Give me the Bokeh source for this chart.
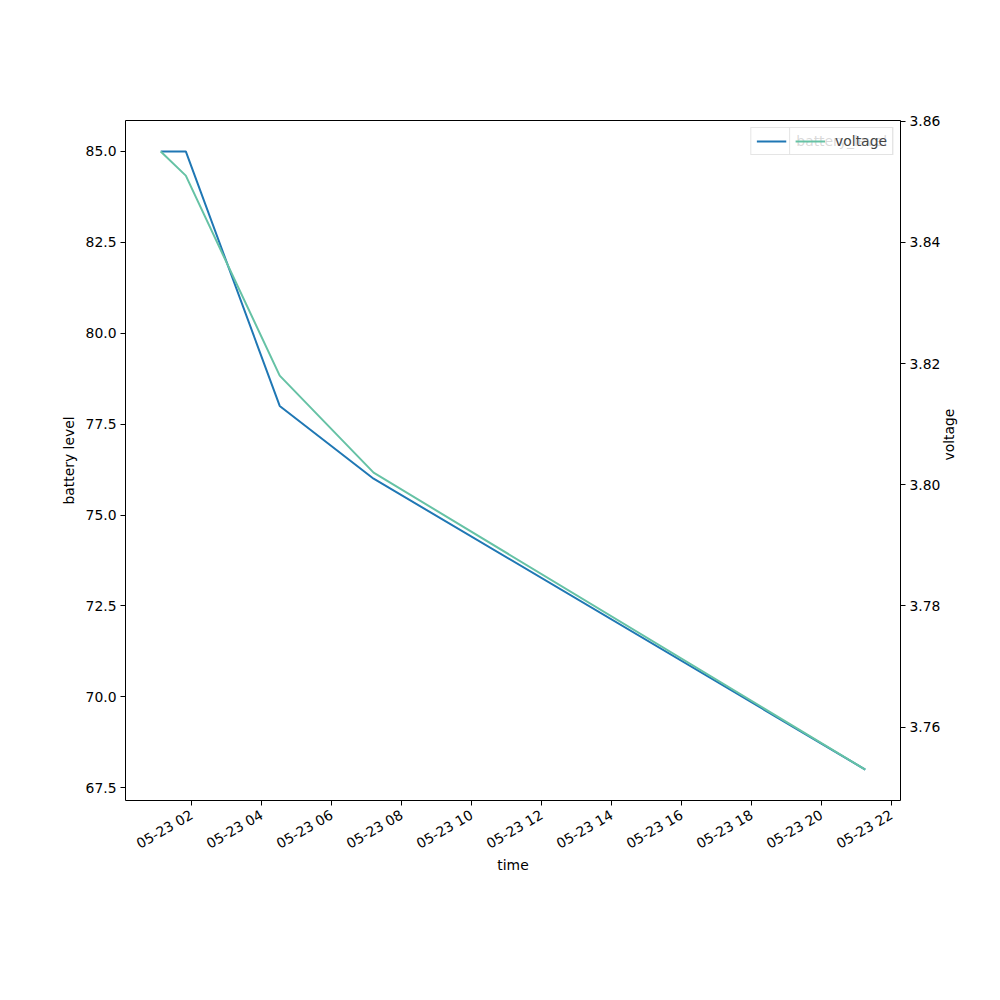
import math
from datetime import datetime
from bokeh.plotting import figure
from bokeh.models import (Range1d, LinearAxis, DatetimeTickFormatter, FixedTicker,
                          SingleIntervalTicker, NumeralTickFormatter, Legend, LegendItem)
from bokeh.embed import file_html
from bokeh.resources import INLINE

times = ["2023-05-23 01:07", "2023-05-23 01:50", "2023-05-23 04:31",
         "2023-05-23 07:12", "2023-05-23 21:15"]
battery_level = [85.0, 85.0, 78.0, 76.0, 68.0]
voltage = [3.855, 3.851, 3.818, 3.802, 3.753]
tick_hours = [2, 4, 6, 8, 10, 12, 14, 16, 18, 20, 22]

t = [datetime.strptime(s, "%Y-%m-%d %H:%M") for s in times]
tick_ms = [datetime(2023, 5, 23, h).timestamp() * 1000 for h in tick_hours]

def pad(lo, hi, f=0.05):
    d = (hi - lo) * f
    return lo - d, hi + d

x0, x1 = pad(t[0].timestamp() * 1000, t[-1].timestamp() * 1000)
y0, y1 = pad(min(battery_level), max(battery_level))
v0, v1 = pad(min(voltage), max(voltage))

FONT = "DejaVu Sans"
FS = "13.9px"

p = figure(width=992, height=992, x_axis_type="datetime",
           x_range=Range1d(x0, x1), y_range=Range1d(y0, y1),
           output_backend="svg", toolbar_location=None,
           min_border_left=125, min_border_right=92,
           min_border_top=120, min_border_bottom=192)
p.extra_y_ranges = {"v": Range1d(v0, v1)}
p.grid.visible = False
p.outline_line_color = "black"
p.outline_line_width = 1
p.background_fill_color = "white"
p.border_fill_color = "white"

r1 = p.line(t, battery_level, line_color="#1f77b4", line_width=2)
r2 = p.line(t, voltage, line_color="#66c2a5", line_width=2, y_range_name="v")

ax2 = LinearAxis(y_range_name="v", axis_label="voltage")
p.add_layout(ax2, "right")

p.xaxis.ticker = FixedTicker(ticks=tick_ms)
p.xaxis.formatter = DatetimeTickFormatter(hours="%m-%d %H", days="%m-%d %H",
                                          minutes="%m-%d %H", hourmin="%m-%d %H")
p.xaxis.major_label_orientation = math.pi / 6
p.xaxis.axis_label = "time"
p.yaxis[0].axis_label = "battery level"
p.yaxis[0].ticker = SingleIntervalTicker(interval=2.5)
p.yaxis[0].formatter = NumeralTickFormatter(format="0.0")
ax2.ticker = SingleIntervalTicker(interval=0.02)
ax2.formatter = NumeralTickFormatter(format="0.00")

for ax in [p.xaxis[0], p.yaxis[0], ax2]:
    ax.axis_line_color = None
    ax.major_tick_in = 0
    ax.major_tick_out = 5
    ax.minor_tick_line_color = None
    ax.major_tick_line_color = "black"
    ax.major_label_text_font = FONT
    ax.major_label_text_font_size = FS
    ax.major_label_text_color = "black"
    ax.axis_label_text_font = FONT
    ax.axis_label_text_font_size = FS
    ax.axis_label_text_font_style = "normal"
    ax.axis_label_text_color = "black"
    ax.major_label_standoff = 4
    ax.axis_label_standoff = 6
p.xaxis[0].major_label_standoff = 8
p.xaxis[0].axis_label_standoff = -5
ax2.axis_label_orientation = math.pi / 2

def make_legend(items):
    lg = Legend(items=items, location="top_right", margin=7,
                padding=5, spacing=0, glyph_width=30, glyph_height=16,
                label_height=14, label_standoff=10,
                label_text_font=FONT, label_text_font_size=FS,
                border_line_color="#cccccc", border_line_width=1,
                background_fill_alpha=0.8, background_fill_color="white")
    return lg

lg1 = make_legend([LegendItem(label="battery_level", renderers=[r1])])
lg2 = make_legend([LegendItem(label="voltage", renderers=[r2])])
p.add_layout(lg1, "center")
p.add_layout(lg2, "center")

open("out.html", "w").write(file_html(p, INLINE))
